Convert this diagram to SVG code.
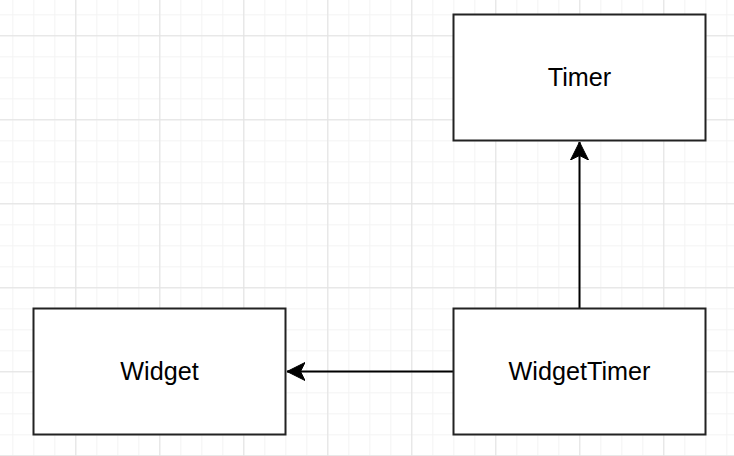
<svg xmlns="http://www.w3.org/2000/svg" width="734" height="456" viewBox="0 0 734 456">
<defs>
<pattern id="minor" x="12.3" y="14.3" width="21" height="21" patternUnits="userSpaceOnUse">
<path d="M0.5 0V21M0 0.5H21" fill="none" stroke="#f3f3f3" stroke-width="1"/>
</pattern>
<pattern id="major" x="75.3" y="35.3" width="84" height="84" patternUnits="userSpaceOnUse">
<path d="M0.5 0V84M0 0.5H84" fill="none" stroke="#e2e2e2" stroke-width="1"/>
</pattern>
<marker id="arr" markerWidth="20" markerHeight="20" viewBox="0 0 20 20" refX="18" refY="10" orient="auto" markerUnits="userSpaceOnUse">
<path d="M18 10L0 1L4.5 10L0 19Z" fill="#000" stroke="#000" stroke-width="1"/>
</marker>
<style>
.box{fill:#fff;stroke:#222;stroke-width:2}
.lbl{font-family:"Liberation Sans",Arial,sans-serif;font-size:25.2px;fill:#000;text-anchor:middle}
.edge{fill:none;stroke:#000;stroke-width:2}
</style>
</defs>
<rect width="734" height="456" fill="#fff"/>
<rect width="734" height="456" fill="url(#minor)"/>
<rect width="734" height="456" fill="url(#major)"/>
<g id="connectors">
<path class="edge" d="M579.5 308V142" marker-end="url(#arr)"/>
<path class="edge" d="M453 371.5H287" marker-end="url(#arr)"/>
</g>
<g id="timer">
<rect class="box" x="453.5" y="14.5" width="252" height="126"/>
<text class="lbl" x="579.5" y="86">Timer</text>
</g>
<g id="widget">
<rect class="box" x="33.5" y="308.5" width="252" height="126"/>
<text class="lbl" x="159.5" y="380">Widget</text>
</g>
<g id="widgettimer">
<rect class="box" x="453.5" y="308.5" width="252" height="126"/>
<text class="lbl" x="579.5" y="380">WidgetTimer</text>
</g>
</svg>
